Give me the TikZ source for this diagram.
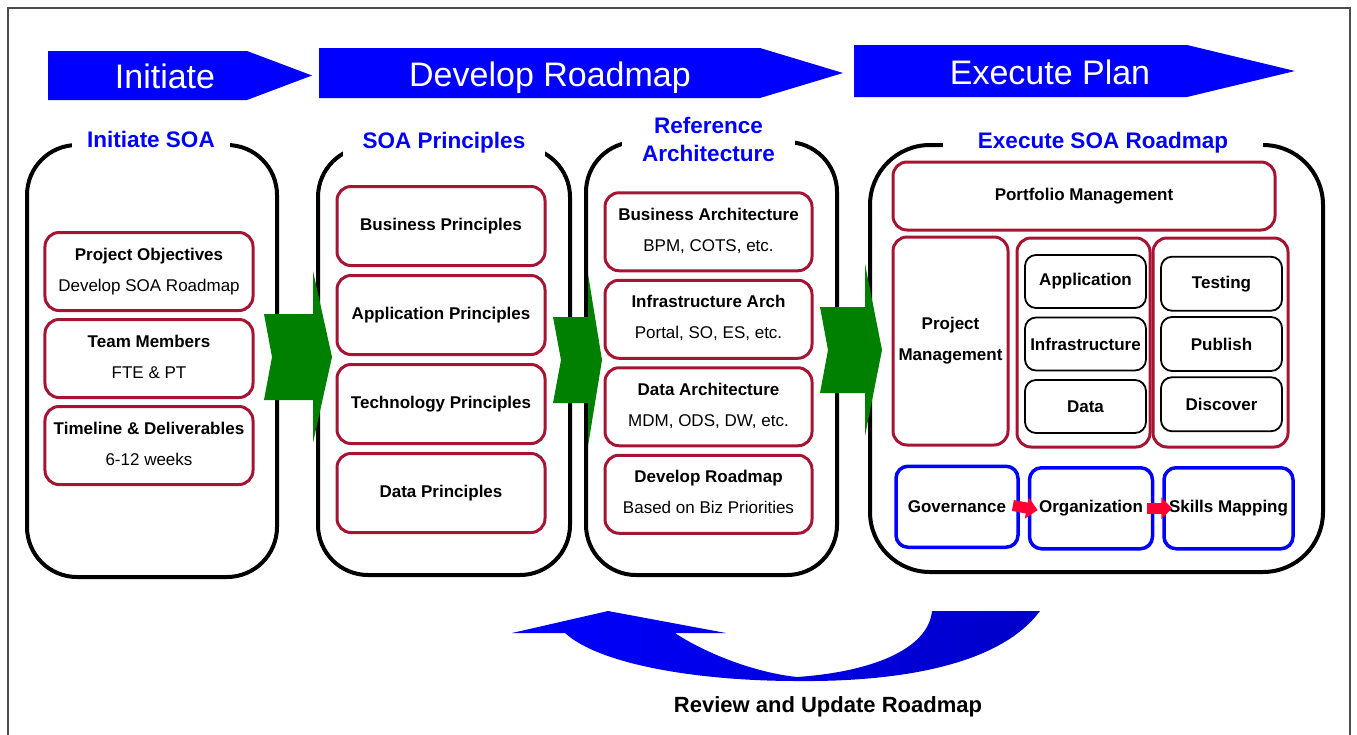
\documentclass[tikz,border=0pt]{standalone}
\usepackage{fontspec}
\setmainfont{Liberation Sans}
\usetikzlibrary{positioning,matrix,arrows.meta}

\definecolor{soared}{RGB}{165,20,50}
\definecolor{soablue}{RGB}{0,0,255}
\definecolor{soadeep}{RGB}{0,0,200}
\definecolor{soagreen}{RGB}{0,128,0}
\definecolor{soaarrow}{RGB}{255,0,50}
\newcommand\boxtext[2]{\begin{tabular}{@{}c@{}}\textbf{#1}\\[11pt]#2\end{tabular}}

\tikzset{
  phase/.style={text=white, anchor=base, inner sep=0pt, font=\fontsize{34}{40}\selectfont},
  colbox/.style={draw, line width=4pt, rounded corners=50pt, inner sep=0pt},
  colhead/.style={fill=white, text=soablue, align=center, inner xsep=0pt, inner ysep=4pt,
    font=\fontsize{22.5}{28}\selectfont\bfseries},
  redbox/.style={draw=soared, line width=3pt, rounded corners=14pt, align=center, inner sep=2pt,
    font=\fontsize{17}{20}\selectfont},
  thinbox/.style={draw, line width=1.8pt, rounded corners=11pt, inner sep=1pt,
    font=\fontsize{17}{20}\selectfont\bfseries},
  bluebox/.style={draw=soablue, line width=3.5pt, rounded corners=12pt, inner sep=1pt,
    minimum height=81pt, font=\fontsize{17}{20}\selectfont\bfseries},
}

\begin{document}
\begin{tikzpicture}[x=1pt, y=-1pt]
\useasboundingbox (0,0) rectangle (1357,734);
\draw[line width=1.5pt, black!70] (8,750) -- (8,8) -- (1350,8) -- (1350,750);

\foreach \l/\r/\t/\yt/\yb in {48/247/312/51/100, 319/760/843/48/98, 854/1187/1295/45/97}
    \fill[soablue] (\l,\yt) -- (\r,\yt) -- (\t,{(\yt+\yb)/2}) -- (\r,\yb) -- (\l,\yb) -- cycle;
\node[phase] (initiate) at (165,88) {Initiate};
\node[phase] (develop) at (550,86) {Develop Roadmap};
\node[phase] (execute) at (1050,84) {Execute Plan};

\node[colbox, minimum width=250pt, minimum height=432pt] (col1) at (152,361) {};
\node[colbox, minimum width=252pt, minimum height=428pt] (col2) at (444,361) {};
\node[colbox, minimum width=251pt, minimum height=433pt] (col3) at (711.5,358.5) {};
\node[colbox, minimum width=453pt, minimum height=427pt, rounded corners=60pt] (col4) at (1096.5,358.5) {};

\node[colhead, anchor=base, minimum width=158pt] (initsoa) at (151,147) {Initiate SOA};
\node[colhead, anchor=base, minimum width=202pt] (principles) at (444,148) {SOA Principles};
\node[colhead, minimum width=173pt] (refarch) at (708.5,139) {Reference\\Architecture};
\node[colhead, anchor=base, minimum width=320pt] (execsoa) at (1103,148) {Execute SOA Roadmap};

\foreach \bx/\hx/\tx/\cy in {264/313/332/357, 553/588/602/360, 820/865/882/350}
    \fill[soagreen] (\bx,\cy-43) -- (\hx,\cy-43) -- (\hx,\cy-86) -- (\tx,\cy)
        -- (\hx,\cy+86) -- (\hx,\cy+43) -- (\bx,\cy+43) -- (\bx+8,\cy) -- cycle;

\matrix (init) at (149,358.5) [matrix of nodes, row sep=6pt,
    nodes={redbox, minimum width=208pt, minimum height=78pt}]{
    \boxtext{Project Objectives}{Develop SOA Roadmap}\\
    \boxtext{Team Members}{FTE \& PT}\\
    \boxtext{Timeline \& Deliverables}{6-12 weeks}\\};

\matrix (princ) at (441,359.5) [matrix of nodes, row sep=7pt,
    nodes={redbox, minimum width=208pt, minimum height=79pt, font=\fontsize{17}{20}\selectfont\bfseries}]{
    Business Principles\\
    Application Principles\\
    Technology Principles\\
    Data Principles\\};

\matrix (arch) at (708.5,363) [matrix of nodes, row sep=6.5pt,
    nodes={redbox, minimum width=207pt, minimum height=78pt}]{
    \boxtext{Business Architecture}{BPM, COTS, etc.}\\
    \boxtext{Infrastructure Arch}{Portal, SO, ES, etc.}\\
    \boxtext{Data Architecture}{MDM, ODS, DW, etc.}\\
    \boxtext{Develop Roadmap}{Based on Biz Priorities}\\};

\node[redbox, minimum width=382pt, minimum height=68pt, font=\fontsize{17}{20}\selectfont\bfseries]
    (portfolio) at (1084,196) {Portfolio Management};
\node[redbox, minimum width=115pt, minimum height=208pt, font=\fontsize{17}{20}\selectfont\bfseries]
    (projmgmt) at (950.5,341) {Project\\[11pt]Management};
\node[redbox, minimum width=133pt, minimum height=209pt] (grpapp) at (1083.5,342.5) {};
\node[redbox, minimum width=135pt, minimum height=209pt] (grpsvc) at (1220.5,342.5) {};

\matrix (layers) at (1085.5,344) [matrix of nodes, row sep=7.7pt,
    nodes={thinbox, minimum width=121pt, minimum height=53pt}]{
    Application\\
    Infrastructure\\
    Data\\};

\matrix (services) at (1221.5,344) [matrix of nodes, row sep=4.45pt,
    nodes={thinbox, minimum width=121pt, minimum height=54pt}]{
    Testing\\
    Publish\\
    Discover\\};

\matrix (gov) at (1094.5,507.5) [matrix of nodes, column sep=8pt, nodes={bluebox},
    column 1/.style={nodes={minimum width=122pt}},
    column 2/.style={nodes={minimum width=123pt}},
    column 3/.style={nodes={minimum width=129pt}}]{
    Governance & Organization & Skills Mapping\\};

\foreach \i [evaluate=\i as \j using {int(\i+1)}] in {1,2}
    \draw[-{Triangle[length=11pt,width=21pt]}, soaarrow, line width=11pt,
        shorten <=-7pt, shorten >=-10pt] (gov-1-\i.east) -- (gov-1-\j.west);

\shade[left color=soablue, right color=soadeep]
    (512,633) -- (608,611) -- (726,633) -- (675,633)
    .. controls (700,650) and (750,672) .. (797,677)
    .. controls (870,672) and (928,650) .. (932,611) -- (1040,611)
    .. controls (1000,665) and (900,682) .. (797,681)
    .. controls (700,681) and (600,665) .. (565,633) -- cycle;
\node[anchor=base, font=\fontsize{22}{26}\selectfont\bfseries] (review) at (828,712) {Review and Update Roadmap};
\end{tikzpicture}
\end{document}
